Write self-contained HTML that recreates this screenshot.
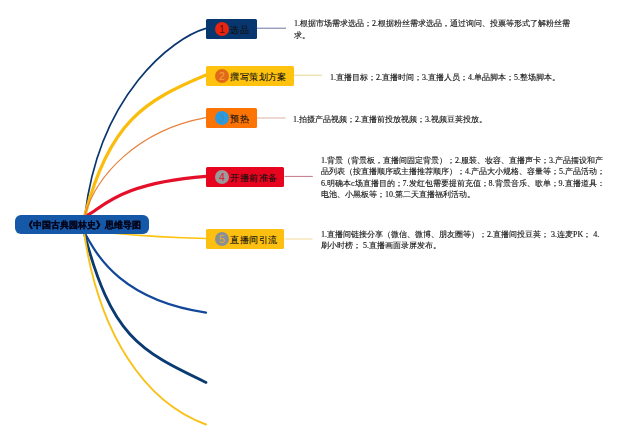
<!DOCTYPE html>
<html><head><meta charset="utf-8">
<style>
html,body{margin:0;padding:0;background:#fff;width:640px;height:440px;overflow:hidden;position:relative}
#svg{position:absolute;left:0;top:0}
.box{position:absolute;height:20.2px;left:206px;border-radius:1.5px}
.lbl{position:absolute;font-family:"Liberation Sans",sans-serif;font-size:9px;font-weight:normal;-webkit-text-stroke:0.1px #111;line-height:20px;color:#111;white-space:nowrap;left:24.4px;top:1px;letter-spacing:0.4px}
.cir{position:absolute;left:9px;top:3px;width:14px;height:14px;border-radius:50%;font-family:"Liberation Sans",sans-serif;font-size:10.5px;line-height:14px;text-align:center}
.txt{position:absolute;will-change:transform;font-family:"Liberation Serif",sans-serif;font-size:8px;line-height:11.3px;color:#111;-webkit-text-stroke:0.12px #111;white-space:nowrap}
#root{position:absolute;left:14.5px;top:215px;width:134.5px;height:19px;background:#1558a8;border-radius:6px}
#root span{position:absolute;will-change:transform;left:9.2px;top:1.4px;line-height:19px;font-family:"Liberation Sans",sans-serif;font-size:9.3px;font-weight:bold;color:#05051a;-webkit-text-stroke:0.12px #05051a;white-space:nowrap}
</style></head><body>
<svg id="svg" width="640" height="440" viewBox="0 0 640 440">
  <g fill="none" stroke-linecap="round">
    <path d="M85 215 C99.4 94.8 172 38 206 28.4" stroke="#0a3670" stroke-width="1.7"/>
    <path d="M85 215 C109.2 121.7 144.9 100.5 206 75" stroke="#fbbd0c" stroke-width="3.2"/>
    <path d="M85 215 C95.9 176.5 136.6 130.4 206 117.7" stroke="#e8803a" stroke-width="1.2"/>
    <path d="M85 222 L88 215 C104.7 205.4 121.6 183 206 176.4" stroke="#e4102a" stroke-width="3.3"/>
    <path d="M110 233 Q160 237.5 206 238.5" stroke="#ffc20e" stroke-width="1.3"/>
    <path d="M84 232 C92.9 245.5 112.7 298.9 206 312.6" stroke="#12479a" stroke-width="2.3"/>
    <path d="M84 232 C111.2 336 138.7 350.5 206 382.4" stroke="#0a3a72" stroke-width="2.8"/>
    <path d="M84 232 C98.7 333.7 144.6 402.3 206 424.5" stroke="#f8c21a" stroke-width="1.9"/>
    <!-- connectors -->
    <rect x="257" y="27.7" width="29" height="1" fill="#6a75a0"/>
    <rect x="294" y="74.7" width="28" height="1" fill="#e6d890"/>
    <rect x="257" y="117.5" width="28.5" height="1" fill="#dcb4a4"/>
    <rect x="284.5" y="175.9" width="28.3" height="1" fill="#c47888"/>
    <rect x="284.5" y="238.5" width="28" height="1" fill="#f6dc9a"/>
  </g>
</svg>

<div id="root"><span>《中国古典园林史》思维导图</span></div>

<div class="box" style="top:18.6px;width:51px;background:#08366f"><div class="cir" style="background:#e8250f;color:#5a1010">1</div><div class="lbl">选品</div></div>
<div class="box" style="top:65.8px;width:88px;background:#ffc20e"><div class="cir" style="background:#e06a18;color:#f5a040">2</div><div class="lbl">撰写策划方案</div></div>
<div class="box" style="top:108.2px;width:51px;background:#fd7404"><div class="cir" style="background:#2a9ae0;color:#4a8ab0">3</div><div class="lbl">预热</div></div>
<div class="box" style="top:166.7px;width:78px;background:#e6041e"><div class="cir" style="background:#9a9a9a;color:#e0102a">4</div><div class="lbl">开播前准备</div></div>
<div class="box" style="top:229px;width:78px;background:#fdc010"><div class="cir" style="background:#8a8f95;color:#e0b030">5</div><div class="lbl">直播间引流</div></div>

<div class="txt" style="left:294px;top:18px;line-height:12.2px">1.根据市场需求选品；2.根据粉丝需求选品，通过询问、投票等形式了解粉丝需<br>求。</div>
<div class="txt" style="left:330px;top:71.6px">1.直播目标；2.直播时间；3.直播人员；4.单品脚本；5.整场脚本。</div>
<div class="txt" style="left:293.3px;top:114.3px">1.拍摄产品视频；2.直播前投放视频；3.视频豆荚投放。</div>
<div class="txt" style="left:320.8px;top:155.4px">1.背景（背景板，直播间固定背景）；2.服装、妆容、直播声卡；3.产品摆设和产<br>品列表（按直播顺序或主播推荐顺序）；4.产品大小规格、容量等；5.产品活动；<br>6.明确本c场直播目的；7.发红包需要提前充值；8.背景音乐、歌单；9.直播道具：<br>电池、小黑板等；10.第二天直播福利活动。</div>
<div class="txt" style="left:321.3px;top:229.3px">1.直播间链接分享（微信、微博、朋友圈等）；2.直播间投豆荚； 3.连麦PK； 4.<br>刷小时榜； 5.直播画面录屏发布。</div>
</body></html>
